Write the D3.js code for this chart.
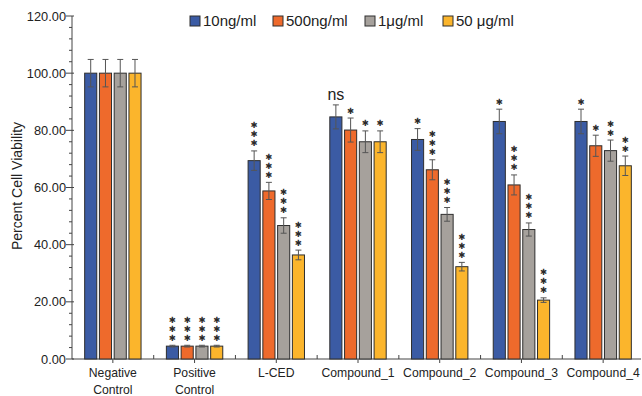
<!DOCTYPE html>
<html lang="en">
<head>
<meta charset="UTF-8">
<title>Percent Cell Viability</title>
<script src="https://d3js.org/d3.v7.min.js"></script>
<style>
body { margin: 0; background: #fff; }
svg { display: block; font-family: "Liberation Sans", Arial, sans-serif; }
.ytick-label { font-size: 12.8px; fill: #222; }
.xtick-label { font-size: 12.2px; fill: #222; }
.legend-text { font-size: 15px; fill: #222; }
.sig { font-family: "DejaVu Sans", sans-serif; font-size: 8.5px; fill: #2a2a2a; }
</style>
</head>
<body>
<svg id="chart" width="642" height="396"></svg>
<script>
// data
const groups = ["Negative Control", "Positive Control", "L-CED", "Compound_1", "Compound_2", "Compound_3", "Compound_4"];
const series = ["10ng/ml", "500ng/ml", "1\u03bcg/ml", "50 \u03bcg/ml"];
const colors = ["#3b5ba4", "#ee6a2c", "#a6a19c", "#fbb52c"];

const v10 = [100, 4.5, 69.4, 84.7, 76.8, 83.1, 83.1];
const v500 = [100, 4.5, 58.8, 80.1, 66.2, 60.9, 74.6];
const v1 = [100, 4.5, 46.7, 76.0, 50.6, 45.3, 72.9];
const v50 = [100, 4.5, 36.4, 76.0, 32.3, 20.6, 67.6];

const e10 = [4.8, 0.3, 3.4, 4.2, 3.8, 4.3, 4.3];
const e500 = [4.8, 0.3, 3.0, 4.2, 3.5, 3.5, 3.7];
const e1 = [4.8, 0.3, 2.7, 3.8, 2.4, 2.3, 3.7];
const e50 = [4.8, 0.3, 1.7, 3.8, 1.5, 0.8, 3.4];

// significance marks ("" = none)
const s10 = ["", "***", "***", "ns", "*", "*", "*"];
const s500 = ["", "***", "***", "*", "***", "***", "*"];
const s1 = ["", "***", "***", "*", "***", "***", "**"];
const s50 = ["", "***", "***", "*", "***", "***", "**"];

const yTicks = [0, 20, 40, 60, 80, 100, 120];

const values = [v10, v500, v1, v50];
const errors = [e10, e500, e1, e50];
const sigs = [s10, s500, s1, s50];

const rows = [];
groups.forEach((g, gi) => {
    series.forEach((s, si) => {
        rows.push({ group: g, series: s, si: si, value: values[si][gi], err: errors[si][gi], sig: sigs[si][gi] });
    });
});

const svg = d3.select("#chart");

const x0 = d3.scaleBand().domain(groups).range([72, 644]).paddingInner(0.31).paddingOuter(0.155);
const x1 = d3.scaleBand().domain(series).range([0, x0.bandwidth()]).paddingInner(0.18);
const y = d3.scaleLinear().domain([0, 120]).range([359, 16]);

const axisColor = "#444";

// y axis
const yAxis = svg.append("g");
yAxis.append("line")
    .attr("x1", 72).attr("x2", 72)
    .attr("y1", y(120)).attr("y2", y(0))
    .attr("stroke", axisColor);
// minor ticks every 4
yAxis.selectAll(".minor")
    .data(d3.range(0, 121, 4).filter(d => d % 20 !== 0))
    .enter().append("line")
    .attr("x1", 69).attr("x2", 72)
    .attr("y1", d => y(d)).attr("y2", d => y(d))
    .attr("stroke", axisColor);
yAxis.selectAll(".major")
    .data(yTicks)
    .enter().append("line")
    .attr("x1", 66).attr("x2", 74)
    .attr("y1", d => y(d)).attr("y2", d => y(d))
    .attr("stroke", axisColor);
yAxis.selectAll(".ylab")
    .data(yTicks)
    .enter().append("text")
    .attr("class", "ytick-label")
    .attr("x", 66)
    .attr("y", d => y(d))
    .attr("dy", "0.36em")
    .attr("text-anchor", "end")
    .text(d => d.toFixed(2));

svg.append("text")
    .attr("transform", "translate(22," + 186 + ") rotate(-90)")
    .attr("text-anchor", "middle")
    .attr("font-size", "14px")
    .attr("fill", "#222")
    .text("Percent Cell Viability");

// x axis
svg.append("line")
    .attr("x1", 72).attr("x2", 641)
    .attr("y1", y(0)).attr("y2", y(0))
    .attr("stroke", axisColor);
// center ticks (down)
svg.selectAll(".xc")
    .data(groups)
    .enter().append("line")
    .attr("x1", d => x0(d) + x0.bandwidth() / 2)
    .attr("x2", d => x0(d) + x0.bandwidth() / 2)
    .attr("y1", y(0)).attr("y2", y(0) + 4)
    .attr("stroke", axisColor);
// boundary ticks (up)
svg.selectAll(".xb")
    .data(groups.slice(1))
    .enter().append("line")
    .attr("x1", d => x0(d) - x0.step() * x0.paddingInner() / 2)
    .attr("x2", d => x0(d) - x0.step() * x0.paddingInner() / 2)
    .attr("y1", y(0)).attr("y2", y(0) - 4)
    .attr("stroke", axisColor);

const xl = svg.selectAll(".xlab")
    .data(groups)
    .enter().append("text")
    .attr("class", "xtick-label")
    .attr("text-anchor", "middle")
    .attr("x", d => x0(d) + x0.bandwidth() / 2)
    .attr("y", 377);
xl.each(function (d) {
    const parts = d.split(" ");
    const t = d3.select(this);
    parts.forEach((p, i) => {
        t.append("tspan")
            .attr("x", x0(d) + x0.bandwidth() / 2)
            .attr("dy", i === 0 ? 0 : 17)
            .text(p);
    });
});

// bars
const gBars = svg.append("g");
const bx = d => x0(d.group) + x1(d.series);

gBars.selectAll("rect")
    .data(rows)
    .enter().append("rect")
    .attr("x", bx)
    .attr("y", d => y(d.value))
    .attr("width", x1.bandwidth())
    .attr("height", d => y(0) - y(d.value))
    .attr("fill", d => colors[d.si])
    .attr("stroke", "#2e2e2e")
    .attr("stroke-width", 1);

// error bars
const eb = svg.append("g").attr("stroke", "#555").attr("stroke-width", 1);
rows.forEach(d => {
    const cx = bx(d) + x1.bandwidth() / 2;
    eb.append("line").attr("x1", cx).attr("x2", cx).attr("y1", y(d.value + d.err)).attr("y2", y(d.value - d.err));
    eb.append("line").attr("x1", cx - 3).attr("x2", cx + 3).attr("y1", y(d.value + d.err)).attr("y2", y(d.value + d.err));
    eb.append("line").attr("x1", cx - 3).attr("x2", cx + 3).attr("y1", y(d.value - d.err)).attr("y2", y(d.value - d.err));
});

// significance: each star is its own small text
const sg = svg.append("g");
rows.filter(d => d.sig !== "").forEach(d => {
    const cx = bx(d) + x1.bandwidth() / 2;
    const top = y(d.value + d.err);
    if (d.sig === "ns") {
        sg.append("text")
            .attr("x", cx).attr("y", top - 5)
            .attr("text-anchor", "middle")
            .attr("font-size", "16px")
            .attr("fill", "#222")
            .text("ns");
    } else {
        for (let i = 0; i < d.sig.length; i++) {
            sg.append("text")
                .attr("class", "sig")
                .attr("x", cx)
                .attr("y", top - 7.5 - i * 9)
                .attr("dy", "0.35em")
                .attr("text-anchor", "middle")
                .text("\u2731");
        }
    }
});

// legend
const legendX = [190, 273, 365, 443];
const lg = svg.append("g");
series.forEach((s, i) => {
    lg.append("rect")
        .attr("x", legendX[i]).attr("y", 16)
        .attr("width", 10).attr("height", 10)
        .attr("fill", colors[i])
        .attr("stroke", "#2e2e2e");
    lg.append("text")
        .attr("class", "legend-text")
        .attr("x", legendX[i] + 13).attr("y", 21)
        .attr("dy", "0.36em")
        .text(s);
});
</script>
</body>
</html>
